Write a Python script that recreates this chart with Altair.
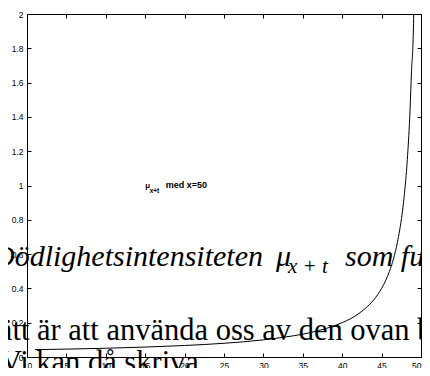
import altair as alt
import pandas as pd

# ---- data ----
t_years = [1, 5, 10, 15, 20, 25, 30, 33, 35, 37, 39, 40, 41, 42, 43, 44, 45,
           45.5, 46, 46.5, 47, 47.3, 47.6, 48, 48.3, 48.6, 48.8, 49.0, 49.1]
mu_vals = [0.043, 0.046, 0.051, 0.058, 0.067, 0.08, 0.1, 0.118, 0.133, 0.154,
           0.182, 0.2, 0.222, 0.25, 0.286, 0.333, 0.4, 0.444, 0.5, 0.571,
           0.667, 0.741, 0.833, 1.0, 1.176, 1.43, 1.67, 1.85, 2.05]
x_ticks = [0, 5, 10, 15, 20, 25, 30, 35, 40, 45, 50]
y_ticks = [0, 0.2, 0.4, 0.6, 0.8, 1, 1.2, 1.4, 1.6, 1.8, 2]

ann_pos_x = [15]
ann_pos_y = [1.0]
ann_mu = ["μ"]
ann_sub = ["x+t"]
ann_rest = ["med x=50"]

doc_line1_a = ["Dödlighetsintensiteten"]
doc_line1_mu = ["μ"]
doc_line1_sub = ["x + t"]
doc_line1_b = ["som funktion av t"]
doc_line2 = ["sätt är att använda oss av den ovan beskrivna"]
doc_line3 = ["Vi kan då skriva."]

df = pd.DataFrame({"t": t_years, "mu": mu_vals})
ann_df = pd.DataFrame({"ax": ann_pos_x, "ay": ann_pos_y})

xscale = alt.Scale(domain=[0, 50], nice=False, zero=False)
yscale = alt.Scale(domain=[0, 2], nice=False, zero=False)

AX = dict(domain=False, grid=False, title=None, tickSize=4, offset=-4,
          tickColor="black", labelColor="black", labelFont="Liberation Sans",
          labelFontSize=8.5, labelPadding=4)

line = alt.Chart(df).mark_line(color="black", strokeWidth=1, clip=True,
                               interpolate="monotone").encode(
    x=alt.X("t:Q", scale=xscale, axis=alt.Axis(orient="bottom", values=x_ticks, format="~g", **AX)),
    y=alt.Y("mu:Q", scale=yscale, axis=alt.Axis(orient="left", values=y_ticks, format="~g", **AX)),
)

carrier = alt.Chart(df).mark_line(strokeOpacity=0).encode(
    x=alt.X("t:Q", scale=xscale, axis=alt.Axis(orient="top", values=x_ticks, labels=False, **AX)),
    y=alt.Y("mu:Q", scale=yscale, axis=alt.Axis(orient="right", values=y_ticks, labels=False, **AX)),
)

def ann(txt, dx, dy, size):
    return alt.Chart(ann_df.assign(s=txt)).mark_text(
        align="left", baseline="alphabetic", dx=dx, dy=dy,
        font="Liberation Sans", fontWeight="bold", fontSize=size, color="black"
    ).encode(
        x=alt.X("ax:Q", scale=xscale, axis=None),
        y=alt.Y("ay:Q", scale=yscale, axis=None),
        text="s:N",
    )

a1 = ann(ann_mu, 0, 2.5, 8)
a2 = ann(ann_sub, 4.5, 7.5, 6.5)
a3 = ann(ann_rest, 20.5, 2.5, 9)

SERIF = "Liberation Serif, Times New Roman, serif"

def doc(txt, px, py, size, style="normal"):
    return alt.Chart(pd.DataFrame({"s": txt})).mark_text(
        align="left", baseline="alphabetic", font=SERIF,
        fontSize=size, fontStyle=style, color="black"
    ).encode(x=alt.value(px), y=alt.value(py), text="s:N")

d1a = doc(doc_line1_a, -34, 252, 30, "italic")
d1m = doc(doc_line1_mu, 249, 252, 30, "italic")
d1s = doc(doc_line1_sub, 261, 259, 21, "italic")
d1b = doc(doc_line1_b, 318, 252, 30, "italic")
d2 = doc(doc_line2, -40, 326, 30.5)
d3 = doc(doc_line3, -27, 358, 30.5)

chart = alt.layer(line, carrier, a1, a2, a3, d1a, d1m, d1s, d1b, d2, d3).resolve_axis(
    x="independent", y="independent"
).properties(
    width=394, height=343,
    autosize=alt.AutoSizeParams(type="none"),
    padding={"left": 19, "top": 6, "right": 1, "bottom": 11},
    background="white",
).configure_view(stroke="black", strokeWidth=1)

chart.save("out.html", embed_options={"renderer": "svg", "actions": False})
